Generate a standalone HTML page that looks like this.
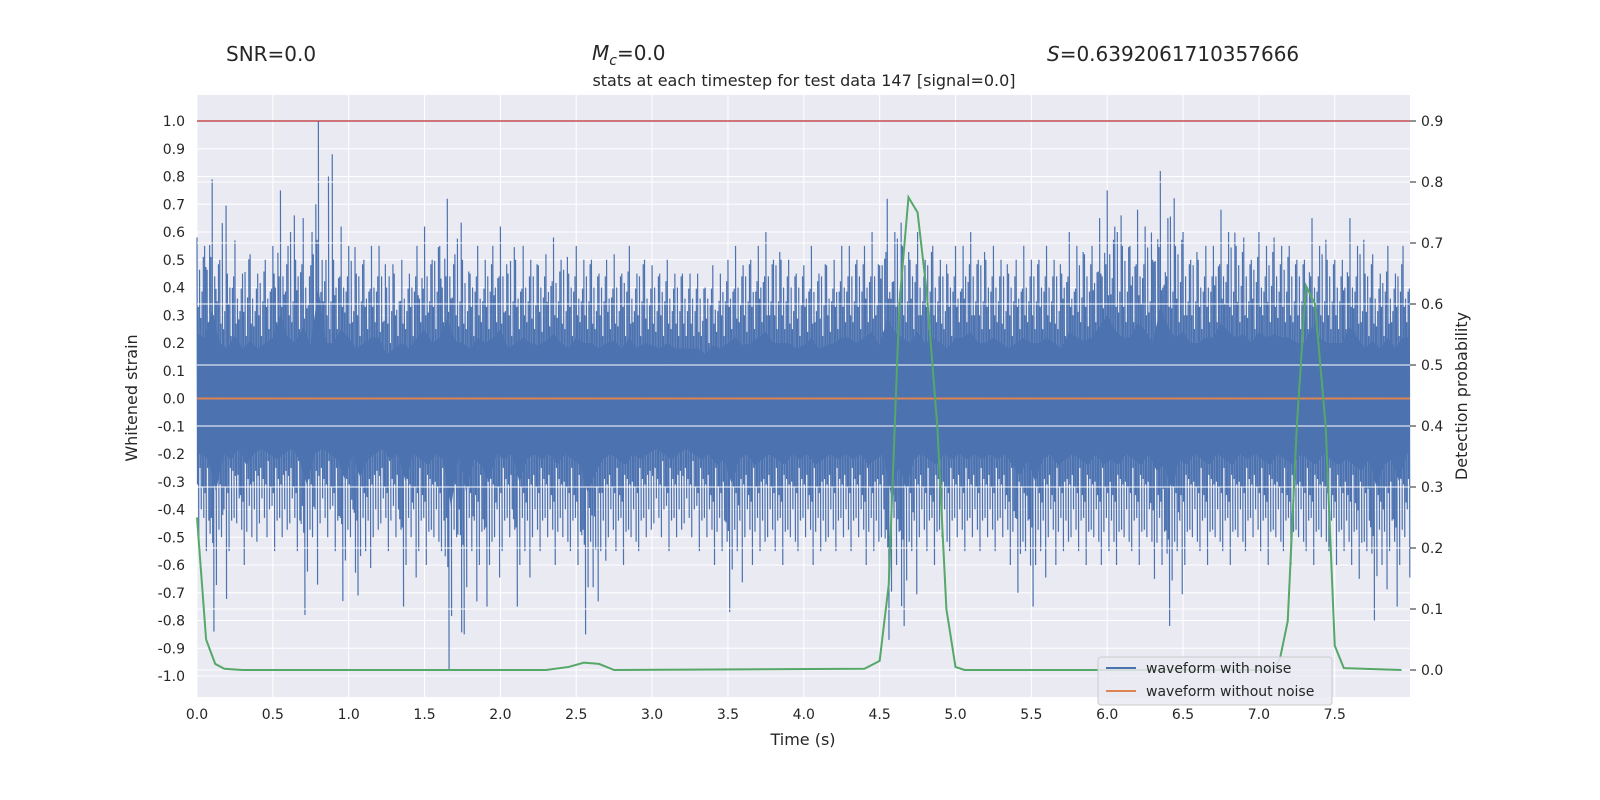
<!DOCTYPE html>
<html><head><meta charset="utf-8">
<style>
html,body{margin:0;padding:0;overflow:hidden;background:#fff;font-family:"Liberation Sans","DejaVu Sans",sans-serif;}
svg{display:block;}
svg text{font-family:"DejaVu Sans","Liberation Sans",sans-serif;fill:#262626;}
</style></head>
<body>
<svg id="chart" width="1600" height="800" xmlns="http://www.w3.org/2000/svg">
<rect x="0" y="0" width="1600" height="800" fill="#fff"/>
<rect x="197" y="95" width="1213" height="602" fill="#eaeaf2"/>
<g id="grid"></g>
<g id="marks"></g>
<g id="rgrid"></g>
<g id="axes"></g>
<text x="226" y="61" font-size="20">SNR=0.0</text>
<text x="592" y="60" font-size="20"><tspan font-style="italic">M</tspan><tspan font-style="italic" font-size="14" dy="5">c</tspan><tspan dy="-5">=0.0</tspan></text>
<text x="1047" y="61" font-size="20"><tspan font-style="italic">S</tspan>=0.6392061710357666</text>
<text x="804" y="86" font-size="16" text-anchor="middle">stats at each timestep for test data 147 [signal=0.0]</text>
<text x="803" y="745" font-size="16" text-anchor="middle">Time (s)</text>
<text x="137" y="398" font-size="16" text-anchor="middle" transform="rotate(-90 137 398)">Whitened strain</text>
<text x="1467" y="396" font-size="16" text-anchor="middle" transform="rotate(-90 1467 396)">Detection probability</text>
<g>
<rect x="1098" y="657" width="234" height="48" rx="3" fill="#eaeaf2" fill-opacity="0.85" stroke="#ccc"/>
<line x1="1106" y1="668" x2="1136" y2="668" stroke="#4c72b0" stroke-width="2"/>
<text x="1146" y="673" font-size="14">waveform with noise</text>
<line x1="1106" y1="691" x2="1136" y2="691" stroke="#dd8452" stroke-width="2"/>
<text x="1146" y="696" font-size="14">waveform without noise</text>
</g>
</svg>
<script>
const xTicks=[0,0.5,1,1.5,2,2.5,3,3.5,4,4.5,5,5.5,6,6.5,7,7.5];
const yTicks=[-1,-0.9,-0.8,-0.7,-0.6,-0.5,-0.4,-0.3,-0.2,-0.1,0,0.1,0.2,0.3,0.4,0.5,0.6,0.7,0.8,0.9,1.0];
const pTicks=[0,0.1,0.2,0.3,0.4,0.5,0.6,0.7,0.8,0.9];
const binStep=0.05;
const upper=[0.58,0.55,0.79,0.5,0.45,0.57,0.45,0.52,0.45,0.5,0.55,0.75,0.55,0.5,0.65,0.48,1.0,0.5,0.5,0.62,
0.55,0.45,0.5,0.55,0.55,0.4,0.45,0.5,0.45,0.55,0.62,0.5,0.55,0.72,0.52,0.5,0.45,0.55,0.5,0.55,
0.62,0.45,0.5,0.55,0.5,0.48,0.52,0.58,0.5,0.45,0.55,0.5,0.5,0.45,0.5,0.52,0.45,0.55,0.45,0.5,
0.48,0.45,0.5,0.45,0.45,0.45,0.45,0.4,0.48,0.45,0.5,0.55,0.48,0.5,0.55,0.6,0.5,0.5,0.5,0.45,
0.48,0.55,0.45,0.48,0.5,0.55,0.55,0.5,0.55,0.6,0.48,0.72,0.6,0.55,0.5,0.6,0.5,0.55,0.5,0.45,
0.55,0.55,0.6,0.5,0.5,0.55,0.5,0.45,0.5,0.55,0.5,0.5,0.55,0.5,0.45,0.6,0.55,0.52,0.55,0.65,
0.75,0.62,0.55,0.55,0.68,0.62,0.5,0.82,0.65,0.55,0.6,0.5,0.5,0.55,0.55,0.68,0.6,0.55,0.58,0.5,
0.6,0.55,0.58,0.55,0.55,0.5,0.5,0.65,0.55,0.5,0.5,0.5,0.65,0.55,0.45,0.52,0.45,0.55,0.45,0.55];
const lower=[-0.5,-0.55,-0.84,-0.5,-0.55,-0.45,-0.6,-0.5,-0.45,-0.5,-0.55,-0.5,-0.45,-0.55,-0.78,-0.5,-0.45,-0.5,-0.55,-0.73,
-0.5,-0.71,-0.55,-0.5,-0.45,-0.55,-0.5,-0.75,-0.5,-0.55,-0.6,-0.5,-0.55,-0.98,-0.5,-0.85,-0.55,-0.6,-0.75,-0.5,
-0.55,-0.5,-0.75,-0.55,-0.5,-0.55,-0.5,-0.6,-0.5,-0.55,-0.6,-0.85,-0.68,-0.55,-0.5,-0.55,-0.6,-0.5,-0.55,-0.5,
-0.45,-0.5,-0.55,-0.5,-0.45,-0.5,-0.55,-0.5,-0.6,-0.55,-0.77,-0.55,-0.5,-0.6,-0.55,-0.5,-0.55,-0.6,-0.5,-0.55,
-0.5,-0.6,-0.55,-0.5,-0.55,-0.5,-0.55,-0.5,-0.6,-0.55,-0.5,-0.87,-0.6,-0.82,-0.55,-0.5,-0.55,-0.6,-0.5,-0.55,
-0.5,-0.55,-0.5,-0.55,-0.5,-0.55,-0.5,-0.6,-0.7,-0.55,-0.75,-0.55,-0.5,-0.6,-0.55,-0.5,-0.55,-0.6,-0.5,-0.6,
-0.55,-0.6,-0.5,-0.55,-0.6,-0.5,-0.65,-0.6,-0.82,-0.55,-0.6,-0.5,-0.55,-0.6,-0.5,-0.55,-0.6,-0.5,-0.55,-0.5,
-0.55,-0.6,-0.5,-0.55,-0.6,-0.5,-0.55,-0.6,-0.5,-0.55,-0.6,-0.55,-0.6,-0.65,-0.55,-0.8,-0.6,-0.55,-0.75,-0.5];
const probT=[0,0.06,0.12,0.18,0.3,2.3,2.45,2.55,2.65,2.75,4.4,4.5,4.56,4.63,4.69,4.75,4.81,4.88,4.94,5.0,5.06,7.1,7.14,7.19,7.25,7.31,7.37,7.44,7.5,7.56,7.94];
const probV=[0.25,0.05,0.01,0.002,0,0,0.005,0.012,0.01,0,0.002,0.015,0.14,0.6,0.775,0.75,0.62,0.4,0.1,0.005,0,0,0.02,0.08,0.4,0.63,0.6,0.4,0.04,0.003,0];
const threshold=[1.0];
const clean=[0.0];

const X0=197,X1=1410,Y0=95,Y1=697;
const sx=v=>197+v*151.7;
const sy=v=>398.5-v*277.5;
const sp=v=>670-v*610;
const NS="http://www.w3.org/2000/svg";
function mk(p,tag,a){const e=document.createElementNS(NS,tag);for(const k in a)e.setAttribute(k,a[k]);p.appendChild(e);return e;}
const gridG=document.getElementById('grid'),marksG=document.getElementById('marks'),rgridG=document.getElementById('rgrid'),axesG=document.getElementById('axes');
xTicks.forEach(t=>{
 const g=mk(gridG,'line',{x1:sx(t),x2:sx(t),y1:Y0,y2:Y1,stroke:'#fff','stroke-width':1});
 
 
 const l=mk(axesG,'text',{x:sx(t),y:Y1+22,'font-size':14,'text-anchor':'middle'});l.textContent=t.toFixed(1);
 
 
});
yTicks.forEach(t=>{
 const g=mk(gridG,'line',{x1:X0,x2:X1,y1:sy(t),y2:sy(t),stroke:'#fff','stroke-width':1});
 
 
 const l=mk(axesG,'text',{x:X0-12,y:sy(t)+5,'font-size':14,'text-anchor':'end'});l.textContent=t.toFixed(1);
 
 
});
const coreF=0.4;
let bandTop='',bandBot='';
upper.forEach((u,i)=>{bandTop+=(i?'L':'M')+sx(i*binStep)+','+sy(u*coreF);});
for(let i=lower.length-1;i>=0;i--){bandBot+='L'+(sx(i*binStep)+3.8)+','+sy(lower[i]*coreF);}
const band=mk(marksG,'path',{d:bandTop+'L'+X1+','+sy(upper[upper.length-1]*coreF)+'L'+X1+','+sy(lower[lower.length-1]*coreF)+bandBot+'L'+X0+','+sy(lower[0]*coreF)+'Z',fill:'#4c72b0'});


const n=upper.length;
const fu=[1,0.6,0.8,0.5,0.7,0.88];
const fl=[0.62,1,0.5,0.8,0.58,0.86];
let dd='';
upper.forEach((u,i)=>{const x=sx(i*binStep);
 for(let k=0;k<6;k++){
  const src=k%3===0?i:(k%3===1?Math.min(i+1,n-1):Math.max(i-1,0));
  const uu=(k===0?u:upper[src]*fu[k]);
  const ll=(k===1?lower[i]:lower[src]*fl[k]);
  const xx=x+k*1.26;
  dd+='M'+xx+','+sy(uu)+'L'+(xx+0.5)+','+sy(ll);
 }});
const spikes=mk(marksG,'path',{d:dd,stroke:'#4c72b0','stroke-width':1.2,fill:'none'});


const cl=mk(marksG,'line',{x1:X0,x2:X1,y1:sy(clean[0]),y2:sy(clean[0]),stroke:'#dd8452','stroke-width':2});


pTicks.forEach(t=>{
 const g=mk(rgridG,'line',{x1:X0,x2:X1,y1:sp(t),y2:sp(t),stroke:'#fff','stroke-width':1});
 
 
 const tk=mk(axesG,'line',{x1:X1,x2:X1+6,y1:sp(t),y2:sp(t),stroke:'#262626','stroke-width':1});
 
 
 const l=mk(axesG,'text',{x:X1+11,y:sp(t)+5,'font-size':14});l.textContent=t.toFixed(1);
 
 
});
const th=mk(rgridG,'line',{x1:X0,x2:X1,y1:sy(threshold[0]),y2:sy(threshold[0]),stroke:'#c44e52','stroke-width':1.5});


const pts=probT.map((t,i)=>sx(t)+','+sp(probV[i])).join(' ');
const pl=mk(rgridG,'polyline',{points:pts,fill:'none',stroke:'#55a868','stroke-width':2});


</script>
</body></html>
